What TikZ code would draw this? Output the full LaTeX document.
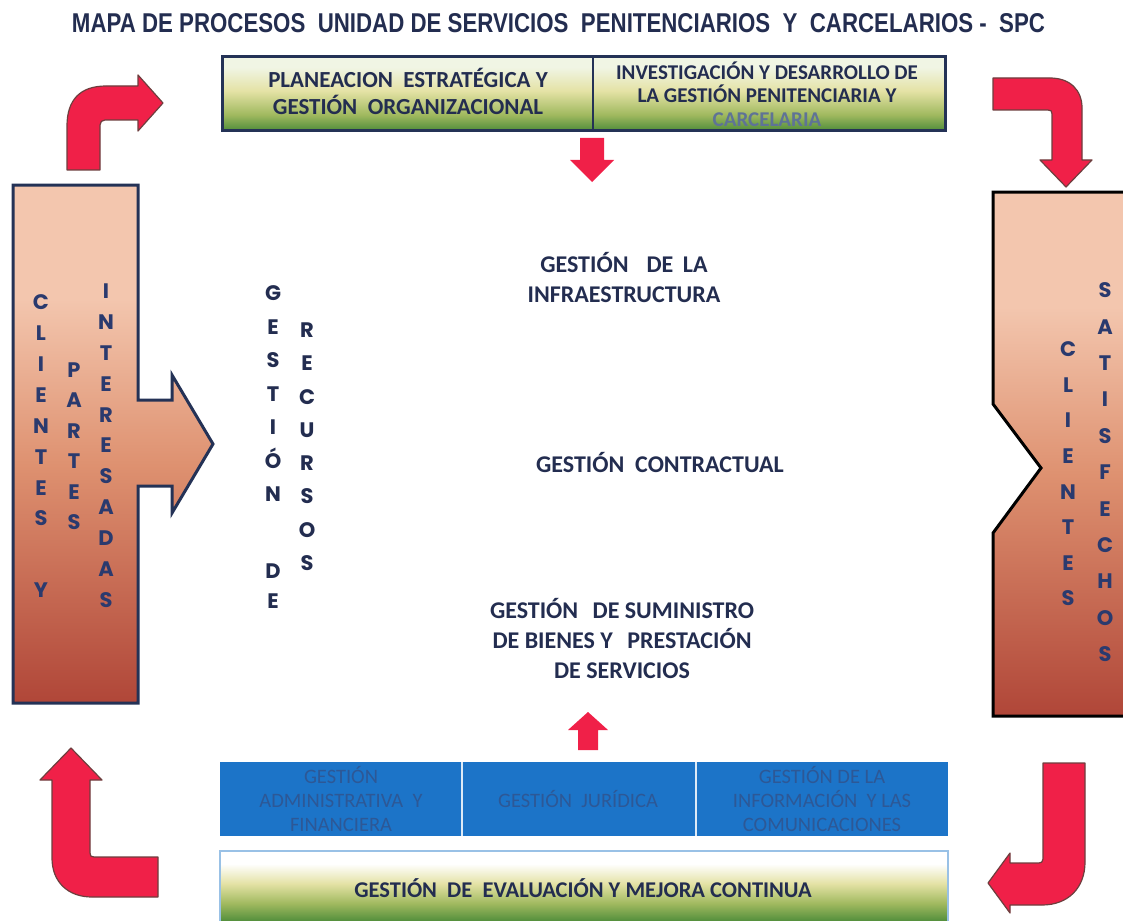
\documentclass[tikz,border=0pt]{standalone}
\usepackage{fontspec}
\usepackage{graphicx}
\setmainfont{Carlito}
\newfontfamily\lettfont{Poppins}
\newfontfamily\titlefont{Liberation Sans}
\definecolor{navy}{RGB}{35,45,80}
\definecolor{lettblue}{RGB}{42,58,110}
\definecolor{arrred}{RGB}{240,32,72}
\definecolor{arrborder}{RGB}{110,62,62}
\definecolor{boxnavy}{RGB}{36,50,86}
\definecolor{bluefill}{RGB}{28,116,200}
\definecolor{bluetext}{RGB}{45,88,150}
\definecolor{greyblue}{RGB}{95,115,150}
\definecolor{gtop}{RGB}{240,245,228}
\definecolor{gmid}{RGB}{228,226,165}
\definecolor{gmid2}{RGB}{160,185,95}
\definecolor{gbot}{RGB}{78,140,58}
\definecolor{ptop}{RGB}{243,198,174}
\definecolor{pmid}{RGB}{222,145,112}
\definecolor{pbot}{RGB}{176,70,56}
\pgfdeclareverticalshading{greenbar}{100bp}{color(0bp)=(gbot); color(25bp)=(gbot); color(36bp)=(gmid2); color(52bp)=(gmid); color(68bp)=(gtop); color(75bp)=(gtop); color(100bp)=(gtop)}
\pgfdeclareverticalshading{greenbarb}{100bp}{color(0bp)=(gbot); color(25bp)=(gbot); color(38bp)=(gmid2); color(52bp)=(gmid); color(66bp)=(white); color(75bp)=(white); color(100bp)=(white)}
\pgfdeclareverticalshading{pinkbar}{100bp}{color(0bp)=(pbot); color(25bp)=(pbot); color(48bp)=(pmid); color(64bp)=(ptop); color(75bp)=(ptop); color(100bp)=(ptop)}
\begin{document}
\begin{tikzpicture}[x=1pt,y=-1pt,
  redarrow/.style={fill=arrred, draw=arrborder, line width=1.2pt, line join=round},
  plainarrow/.style={fill=arrred, draw=none},
  centertxt/.style={font=\fontsize{24}{30}\selectfont\bfseries, text=navy, align=center, inner sep=0pt},
  toptxt/.style={font=\fontsize{23}{27}\selectfont\bfseries, text=navy, align=center, inner sep=0pt},
  bluetxt/.style={font=\fontsize{20.5}{24}\selectfont, text=bluetext, align=center, inner sep=0pt},
  lett/.style={font=\lettfont\bfseries\fontsize{21}{#1}\selectfont, text=lettblue, align=center, inner sep=0pt, anchor=north},
  lettdark/.style={lett=#1, text=navy}
]
\useasboundingbox (0,0) rectangle (1123,920);
\fill[white] (0,0) rectangle (1123,920);

% title
\node[inner sep=0pt, text=navy] (title) at (558.5,23.5)
  {\resizebox{973pt}{19pt}{\titlefont\bfseries MAPA DE PROCESOS\ \ UNIDAD DE SERVICIOS\ \ PENITENCIARIOS\ \ Y\ \ CARCELARIOS -\ \ SPC}};

% top box
\shade[shading=greenbar] (222,57) rectangle (945,131);
\draw[boxnavy, line width=3pt] (222,57) rectangle (945,131);
\draw[boxnavy, line width=2pt] (593,57) -- (593,131);
\node[toptxt] (plan) at (408,91) {PLANEACION\ \ ESTRATÉGICA\ Y\\GESTIÓN\ \ ORGANIZACIONAL};
\node[toptxt, font=\fontsize{21}{23.5}\selectfont\bfseries] (inv) at (767,94)
  {INVESTIGACIÓN Y DESARROLLO DE\\LA\ GESTIÓN\ PENITENCIARIA Y\\\textcolor{greyblue}{CARCELARIA}};

% small straight arrows
\fill[plainarrow] (580,138) -- (604,138) -- (604,160) -- (614,160) -- (592,182) -- (570,160) -- (580,160) -- cycle;
\fill[plainarrow] (578,750) -- (598,750) -- (598,730) -- (608,730) -- (588,712) -- (568,730) -- (578,730) -- cycle;

% bent arrows
\draw[redarrow] (67,170) -- (67,126) .. controls (67,100) and (80,86) .. (106,86) -- (138,86) -- (138,75) -- (163,103) -- (138,131) -- (138,120) -- (105,120) .. controls (102,120) and (100,122) .. (100,125) -- (100,170) -- cycle;
\draw[redarrow] (993,78) -- (1050,78) .. controls (1070,78) and (1082,90) .. (1082,108) -- (1082,160) -- (1092,160) -- (1066,187) -- (1040,160) -- (1052,160) -- (1052,114) .. controls (1052,111) and (1051,110) .. (1048,110) -- (993,110) -- cycle;
\draw[redarrow] (71,748) -- (102,780) -- (90,780) -- (90,853) .. controls (90,856) and (91,857) .. (94,857) -- (158,857) -- (158,897) -- (92,897) .. controls (68,897) and (52,882) .. (52,858) -- (52,780) -- (40,780) -- cycle;
\draw[redarrow] (1043,763) -- (1085,763) -- (1085,862) .. controls (1085,888) and (1068,905) .. (1042,905) -- (1010,905) -- (1010,913) -- (988,883) -- (1010,853) -- (1010,863) -- (1039,863) .. controls (1041,863) and (1043,862) .. (1043,859) -- cycle;

% left input shape
\shade[shading=pinkbar] (13,185) -- (138,185) -- (138,400) -- (172,400) -- (172,375) -- (213,444) -- (172,513) -- (172,486) -- (138,486) -- (138,703) -- (13,703) -- cycle;
\draw[boxnavy, line width=3pt, line join=miter] (13,185) -- (138,185) -- (138,400) -- (172,400) -- (172,375) -- (213,444) -- (172,513) -- (172,486) -- (138,486) -- (138,703) -- (13,703) -- cycle;
\node[lett=30.9] (cli) at (41,294.5) {C\\L\\I\\E\\N\\T\\E\\S\\[41.1pt]Y};
\node[lett=30.4] (par) at (74,362.5) {P\\A\\R\\T\\E\\S};
\node[lett=30.9] (int) at (106,283.5) {I\\N\\T\\E\\R\\E\\S\\A\\D\\A\\S};

% right output shape
\shade[shading=pinkbar] (1130,192) -- (993,192) -- (993,404) -- (1041,468) -- (993,533) -- (993,716) -- (1130,716) -- cycle;
\draw[black, line width=3pt, line join=miter] (1130,192) -- (993,192) -- (993,404) -- (1041,468) -- (993,533) -- (993,716) -- (1130,716);
\node[lett=35.6] (cli2) at (1068,341.5) {C\\L\\I\\E\\N\\T\\E\\S};
\node[lett=36.4] (sat) at (1105,282.5) {S\\A\\T\\I\\S\\F\\E\\C\\H\\O\\S};

% gestion de recursos
\node[lettdark=33.5] (gest) at (273,285.5) {G\\E\\S\\T\\I\\Ó\\N\\[43.5pt]D\\[-3.5pt]E};
\node[lettdark=33.3] (recu) at (307,322.5) {R\\E\\C\\U\\R\\S\\O\\S};

% central processes
\node[centertxt] (infra) at (624,278) {GESTIÓN\hspace{0.75em}DE\hspace{0.4em}LA\\INFRAESTRUCTURA};
\node[centertxt] (contr) at (660,463) {GESTIÓN\ \ CONTRACTUAL};
\node[centertxt] (sumi) at (622,638) {GESTIÓN\hspace{0.6em}DE\ SUMINISTRO\\DE\ BIENES\ Y\hspace{0.6em}PRESTACIÓN\\DE\ SERVICIOS};

% support boxes
\fill[bluefill] (220,762) rectangle (948,836);
\draw[white!85!bluefill, line width=1.5pt] (462,762) -- (462,836);
\draw[white!85!bluefill, line width=1.5pt] (696,762) -- (696,836);
\node[bluetxt] (adm) at (341,799) {GESTIÓN\\ADMINISTRATIVA\ \ Y\\FINANCIERA};
\node[bluetxt] (jur) at (578,799) {GESTIÓN\ \ JURÍDICA};
\node[bluetxt] (info) at (822,799) {GESTIÓN DE LA\\INFORMACIÓN\ \ Y LAS\\COMUNICACIONES};

% evaluation box
\shade[shading=greenbarb] (220,851) rectangle (948,922);
\draw[white!55!bluefill, line width=1.5pt] (220,922) -- (220,851) -- (948,851) -- (948,922);
\node[toptxt, font=\fontsize{22.5}{27}\selectfont\bfseries] (eval) at (583,888) {GESTIÓN\ \ DE\ \ EVALUACIÓN Y MEJORA CONTINUA};
\end{tikzpicture}
\end{document}
